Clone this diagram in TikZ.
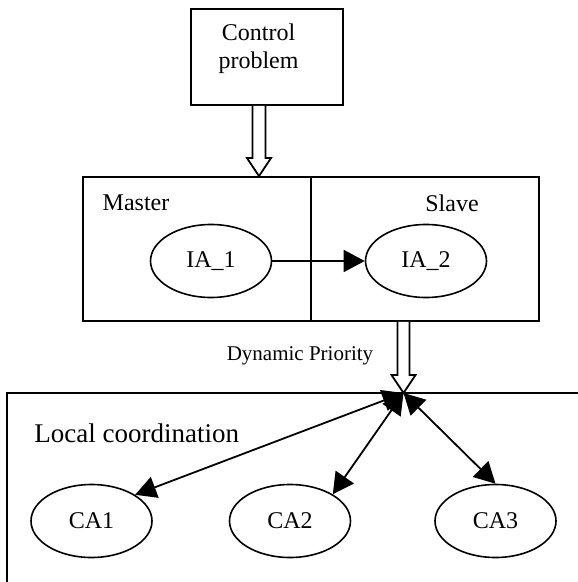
\documentclass[tikz,border=0pt]{standalone}
\usepackage{fontspec}
\setmainfont{Liberation Serif}
\usepackage{tikz}
\usetikzlibrary{shapes, arrows.meta, positioning, calc}
\tikzstyle{block} = [draw, rectangle, line width=0.9pt, inner sep=0pt]
\tikzstyle{agent} = [draw, ellipse, line width=0.8pt, inner sep=0pt, minimum width=60.5pt, minimum height=36.5pt, font=\fontsize{12}{14}\selectfont]
\tikzstyle{caption} = [inner sep=0pt, font=\fontsize{12}{14}\selectfont]
\tikzstyle{arrow} = [draw, line width=0.9pt, -{Triangle[length=10.5pt, width=11pt]}]
\tikzstyle{twoway} = [draw, line width=0.9pt, {Triangle[length=10.5pt, width=11pt]}-{Triangle[length=10.5pt, width=11pt]}]
\tikzstyle{hollow} = [draw, line width=0.9pt, fill=white, line join=miter]

\begin{document}
\begin{tikzpicture}[x=0.5pt, y=-0.5pt]
    \useasboundingbox (0,0) rectangle (577,582);

    \node (ctrl) [block, minimum width=76pt, minimum height=48pt] at (267,57) {};
    \node (ctrltxt) [caption, align=center] at (258.5,49) {Control\\problem};

    \node (master) [block, minimum width=114pt, minimum height=72pt] at (197,249) {};
    \node (slave) [block, minimum width=114pt, minimum height=72pt] at (425,249) {};
    \node (mastertxt) [caption] at (136,203) {Master};
    \node (slavetxt) [caption] at (452,203) {Slave};

    \node (ia1) [agent] at (211,261) {IA\_1};
    \node (ia2) [agent] at (426,261) {IA\_2};

    \coordinate (hub) at (403.5,393);
    \node (prio) [caption, font=\fontsize{10.5}{12}\selectfont] at (300,356) {Dynamic Priority};

    % Local coordination area (runs off the page)
    \draw [line width=0.9pt] (7,600) -- (7,393) -- (600,393);
    \node (localtxt) [caption, anchor=west, font=\fontsize{13.5}{16}\selectfont] at (34,433) {Local coordination};

    \node (ca1) [agent] at (91.5,521) {CA1};
    \node (ca2) [agent] at (290,521) {CA2};
    \node (ca3) [agent] at (495.5,521) {CA3};

    % Hollow arrows
    \coordinate (s1) at ($(ctrl.south)+(-8,0)$);
    \coordinate (t1) at (s1 |- master.north);
    \draw [hollow] ($(s1)+(-6.5,0)$) -- ($(t1)+(-6.5,-18)$) -- ($(t1)+(-12,-18)$) -- (t1)
        -- ($(t1)+(12,-18)$) -- ($(t1)+(6.5,-18)$) -- ($(s1)+(6.5,0)$);
    \coordinate (s2) at (hub |- slave.south);
    \draw [hollow] ($(s2)+(-6,0)$) -- ($(hub)+(-6,-18)$) -- ($(hub)+(-12,-18)$) -- (hub)
        -- ($(hub)+(12,-18)$) -- ($(hub)+(6,-18)$) -- ($(s2)+(6,0)$);

    % Agent links
    \draw [arrow] (ia1) -- (ia2);
    \draw [twoway] (hub) -- (ca1.31);
    \draw [twoway] (hub) -- (ca2.32);
    \draw [twoway] (hub) -- (ca3.north);
\end{tikzpicture}
\end{document}
